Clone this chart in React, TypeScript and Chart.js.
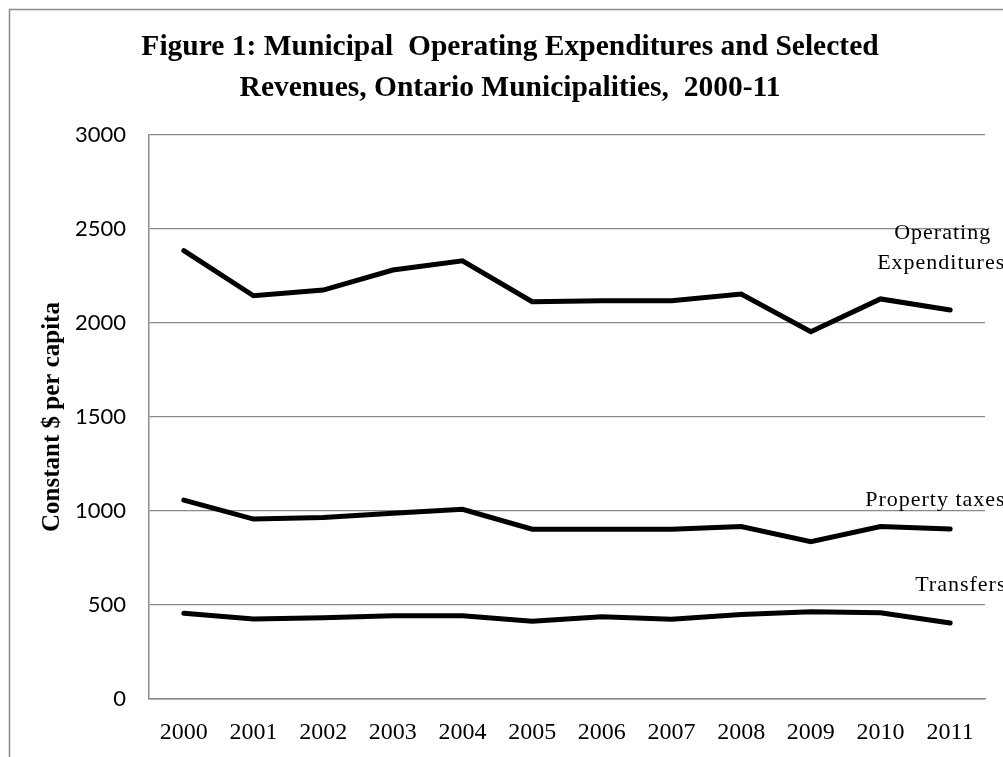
import React, { useEffect, useRef } from "react";
import { Chart, registerables } from "chart.js";

Chart.register(...registerables);

const years = ["2000", "2001", "2002", "2003", "2004", "2005", "2006", "2007", "2008", "2009", "2010", "2011"];
const operatingExpenditures = [2385, 2145, 2175, 2282, 2331, 2113, 2119, 2119, 2154, 1954, 2128, 2069];
const propertyTaxes = [1058, 957, 966, 988, 1009, 903, 903, 903, 917, 837, 917, 904];
const transfers = [456, 426, 432, 443, 443, 413, 438, 424, 450, 464, 459, 404];
const yMin = 0;
const yMax = 3000;
const yStep = 500;
const titleLines = [
  "Figure 1: Municipal  Operating Expenditures and Selected",
  "Revenues, Ontario Municipalities,  2000-11",
];
const yAxisTitle = "Constant $ per capita";
const seriesNames = ["Operating Expenditures", "Property taxes", "Transfers"];

// end-of-line annotations (offsets from each series' last point, in px)
const seriesLabels = [
  { dataset: 0, text: "Operating", dx: -56, dy: -77 },
  { dataset: 0, text: "Expenditures", dx: -73, dy: -47 },
  { dataset: 1, text: "Property taxes", dx: -85, dy: -29 },
  { dataset: 2, text: "Transfers", dx: -35, dy: -38 },
];

const W = 995;
const H = 749;

const framePlugin = {
  id: "frameAndLabels",
  beforeDraw(chart: any) {
    const ctx = chart.ctx;
    ctx.save();
    ctx.fillStyle = "#ffffff";
    ctx.fillRect(0, 0, chart.width, chart.height);
    ctx.restore();
  },
  afterDraw(chart: any) {
    const ctx = chart.ctx;
    ctx.save();
    ctx.strokeStyle = "#8a8a8a";
    ctx.lineWidth = 1.5;
    ctx.beginPath();
    ctx.moveTo(1.5, chart.height);
    ctx.lineTo(1.5, 1.5);
    ctx.lineTo(chart.width, 1.5);
    ctx.stroke();

    ctx.font = "22px 'Liberation Serif', 'Times New Roman', serif";
    try {
      (ctx as any).letterSpacing = "1px";
    } catch (e) {}
    ctx.fillStyle = "#000000";
    ctx.textBaseline = "middle";
    ctx.textAlign = "left";
    for (const l of seriesLabels) {
      const meta = chart.getDatasetMeta(l.dataset);
      const pt = meta.data[meta.data.length - 1];
      if (!pt) continue;
      ctx.fillText(l.text, pt.x + l.dx, pt.y + l.dy);
    }
    try {
      (ctx as any).letterSpacing = "0px";
    } catch (e) {}
    ctx.restore();
  },
};

export default function App() {
  const ref = useRef<HTMLCanvasElement | null>(null);

  useEffect(() => {
    if (!ref.current) return;
    const lineStyle = {
      borderColor: "#000000",
      backgroundColor: "#000000",
      borderWidth: 5,
      pointRadius: 0,
      pointHoverRadius: 0,
      tension: 0,
      fill: false,
      borderCapStyle: "round" as const,
      borderJoinStyle: "miter" as const,
    };
    const chart = new Chart(ref.current, {
      type: "line",
      data: {
        labels: years,
        datasets: [
          { label: seriesNames[0], data: operatingExpenditures, ...lineStyle },
          { label: seriesNames[1], data: propertyTaxes, ...lineStyle },
          { label: seriesNames[2], data: transfers, ...lineStyle },
        ],
      },
      options: {
        responsive: false,
        animation: false,
        events: [],
        layout: { padding: { left: 27, right: 18, top: 0, bottom: 0 } },
        plugins: {
          legend: { display: false },
          tooltip: { enabled: false },
          title: {
            display: true,
            text: titleLines,
            color: "#000000",
            font: { family: "'Liberation Serif', 'Times New Roman', serif", size: 29.5, weight: "bold", lineHeight: 1.39 },
            padding: { top: 18.5, bottom: 26.5 },
          },
        },
        scales: {
          x: {
            offset: true,
            grid: { display: false, drawTicks: false },
            border: { display: true, color: "#8a8a8a", width: 1.5 },
            ticks: {
              color: "#000000",
              padding: 19.5,
              maxRotation: 0,
              autoSkip: false,
              font: { family: "'Liberation Serif', 'Times New Roman', serif", size: 24 },
            },
            afterFit(scale: any) {
              scale.height = 58;
              scale.paddingLeft = 0;
              scale.paddingRight = 0;
            },
          },
          y: {
            min: yMin,
            max: yMax,
            grid: { color: "#8a8a8a", lineWidth: 1.3, drawTicks: false },
            border: { display: true, color: "#8a8a8a", width: 1.5 },
            ticks: {
              stepSize: yStep,
              color: "#000000",
              padding: 23,
              font: { family: "Lato, 'Open Sans', sans-serif", size: 22 },
              callback: (value: any) => String(value),
            },
            title: {
              display: true,
              text: yAxisTitle,
              color: "#000000",
              font: { family: "'Liberation Serif', 'Times New Roman', serif", size: 25, weight: "bold" },
              padding: { top: 3, bottom: 0 },
            },
            afterFit(scale: any) {
              scale.width = 114;
              scale.paddingTop = 0;
              scale.paddingBottom = 0;
            },
          },
        },
      },
      plugins: [framePlugin],
    });
    return () => chart.destroy();
  }, []);

  return (
    <div style={{ position: "absolute", left: 8, top: 8, width: W, height: H, overflow: "hidden" }}>
      <canvas ref={ref} width={W} height={H} style={{ display: "block", width: W, height: H }} />
    </div>
  );
}
